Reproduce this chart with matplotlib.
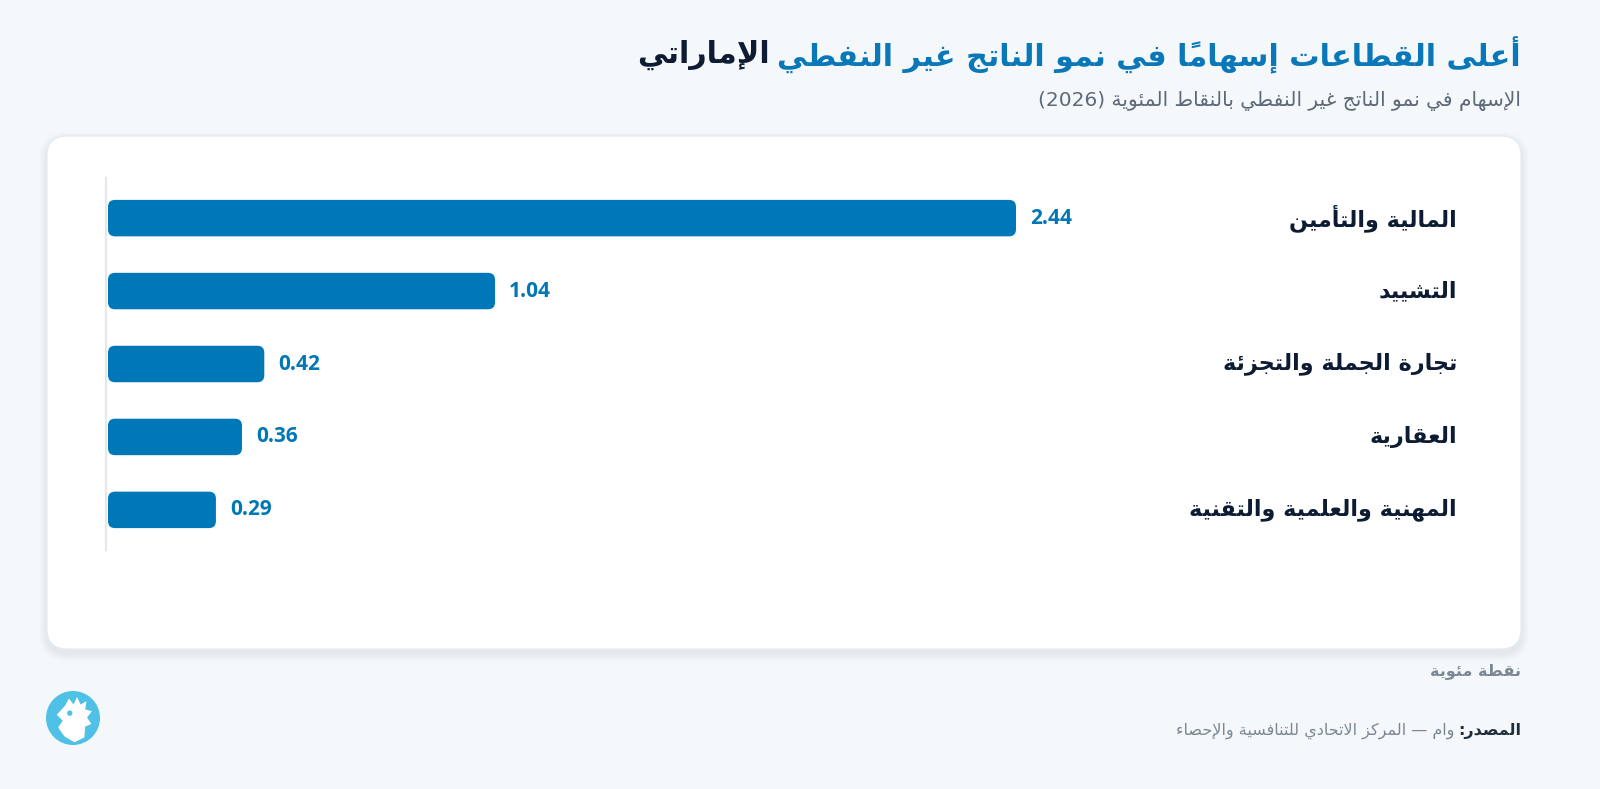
import matplotlib
matplotlib.use('Agg')
import matplotlib.pyplot as plt
from matplotlib import transforms
from matplotlib.patches import FancyBboxPatch, Circle, Polygon

# ---- data ----
categories = ['المالية والتأمين', 'التشييد', 'تجارة الجملة والتجزئة', 'العقارية',
              'المهنية والعلمية والتقنية']
values = [2.44, 1.04, 0.42, 0.36, 0.29]
title_main = 'أعلى القطاعات إسهاماً في نمو الناتج غير النفطي'
title_tail = 'الإماراتي'
subtitle = 'الإسهام في نمو الناتج غير النفطي بالنقاط المئوية (2026)'
unit_label = 'نقطة مئوية'
source_label = 'المصدر:'
source_text = 'وام — المركز الاتحادي للتنافسية والإحصاء'

BG = '#f5f8fb'
BLUE = '#0077b6'
TITLE_BLUE = '#0a78b8'
NAVY = '#0d1b33'
GREY = '#7b8794'

# ---- minimal arabic shaping + rtl ordering (matplotlib has none) ----
DUAL = {'ئ': 0xFE89, 'ب': 0xFE8F, 'ت': 0xFE95, 'ث': 0xFE99, 'ج': 0xFE9D, 'ح': 0xFEA1,
        'خ': 0xFEA5, 'س': 0xFEB1, 'ش': 0xFEB5, 'ص': 0xFEB9, 'ض': 0xFEBD, 'ط': 0xFEC1,
        'ظ': 0xFEC5, 'ع': 0xFEC9, 'غ': 0xFECD, 'ف': 0xFED1, 'ق': 0xFED5, 'ك': 0xFED9,
        'ل': 0xFEDD, 'م': 0xFEE1, 'ن': 0xFEE5, 'ه': 0xFEE9, 'ي': 0xFEF1}
RIGHT = {'آ': 0xFE81, 'أ': 0xFE83, 'ؤ': 0xFE85, 'إ': 0xFE87, 'ا': 0xFE8D, 'ة': 0xFE93,
         'د': 0xFEA9, 'ذ': 0xFEAB, 'ر': 0xFEAD, 'ز': 0xFEAF, 'و': 0xFEED, 'ى': 0xFEEF}
LAMALEF = {'آ': 0xFEF5, 'أ': 0xFEF7, 'إ': 0xFEF9, 'ا': 0xFEFB}
MARKS = {chr(c) for c in range(0x064B, 0x0660)}
MIRROR = {'(': ')', ')': '('}


def shape(s):
    clusters = []
    for ch in s:
        if ch in MARKS and clusters:
            clusters[-1][1] += ch
        else:
            clusters.append([ch, ''])
    merged = []
    i = 0
    while i < len(clusters):
        b, m = clusters[i]
        if b == 'ل' and i + 1 < len(clusters) and clusters[i + 1][0] in LAMALEF:
            merged.append(['LA' + clusters[i + 1][0], m + clusters[i + 1][1]])
            i += 2
        else:
            merged.append([b, m])
            i += 1

    def kind(b):
        if b in DUAL:
            return 'D'
        if b in RIGHT or b.startswith('LA'):
            return 'R'
        return None

    out = []
    for i, (b, m) in enumerate(merged):
        k = kind(b)
        pk = kind(merged[i - 1][0]) if i > 0 else None
        nk = kind(merged[i + 1][0]) if i + 1 < len(merged) else None
        jp = k is not None and pk == 'D'
        jn = k == 'D' and nk is not None
        if b.startswith('LA'):
            g = chr(LAMALEF[b[2]] + (1 if jp else 0))
        elif k == 'D':
            g = chr(DUAL[b] + (3 if jp and jn else 1 if jp else 2 if jn else 0))
        elif k == 'R':
            g = chr(RIGHT[b] + (1 if jp else 0))
        else:
            g = b
        out.append((g, m))
    return out


def rtl(s):
    runs = []
    for g, m in shape(s):
        is_ltr = g.isascii() and g.isalnum()
        if runs and runs[-1][0] == is_ltr:
            runs[-1][1].append((g, m))
        else:
            runs.append([is_ltr, [(g, m)]])
    text = ''
    for is_ltr, items in reversed(runs):
        if not is_ltr:
            items = [(MIRROR.get(g, g), m) for g, m in reversed(items)]
        text += ''.join(g + m for g, m in items)
    return text


W, H = 1600, 789


def fx(px):
    return px / W


def fy(py):
    return 1 - py / H


fig = plt.figure(figsize=(W / 100, H / 100), dpi=100, facecolor=BG)
AR = 'DejaVu Sans'

# card with soft shadow
def card(x0, y0, x1, y1, r, **kw):
    p = FancyBboxPatch((fx(x0), fy(y1)), fx(x1 - x0), (y1 - y0) / H,
                       boxstyle=f'round,pad=0,rounding_size={r / W}',
                       mutation_aspect=W / H, transform=fig.transFigure, **kw)
    fig.patches.append(p)
    return p

for k in range(1, 9):
    card(47 - k, 136 - k + 4, 1521 + k, 649 + k + 4, 20 + k,
         fc='#1f3550', ec='none', alpha=0.006, zorder=-3)
card(47, 136, 1521, 649, 20, fc='white', ec='#e7ecf1', lw=1, zorder=-2)

# bar chart axes
ax = fig.add_axes([fx(108), fy(550), fx(1470) - fx(108), (550 - 178) / H])
ax.set_facecolor('none')
ypos = list(range(len(values)))
bars = ax.barh(ypos, values, height=0.5, color=BLUE)
ax.set_xlim(0, max(values) * 1.5)
ax.set_ylim(len(values) - 0.45, -0.55)
for s in ['top', 'right', 'bottom']:
    ax.spines[s].set_visible(False)
ax.spines['left'].set_color('#e3e8ee')
ax.spines['left'].set_linewidth(1.6)
ax.spines['left'].set_position(('outward', 1.5))
ax.set_xticks([])
ax.set_yticks([])

ax_w = (1470 - 108)
ax_h = (550 - 178)
x_per_px = (ax.get_xlim()[1] - ax.get_xlim()[0]) / ax_w
y_per_px = abs(ax.get_ylim()[0] - ax.get_ylim()[1]) / ax_h
for b in bars:
    b.set_visible(False)
    ax.add_patch(FancyBboxPatch((b.get_x(), b.get_y()), b.get_width(), b.get_height(),
                                boxstyle=f'round,pad=0,rounding_size={7 * x_per_px}',
                                mutation_aspect=y_per_px / x_per_px,
                                fc=BLUE, ec='none'))

lab_tr = transforms.blended_transform_factory(fig.transFigure, ax.transData)
for i, (c, v) in enumerate(zip(categories, values)):
    ax.text(fx(1457), i, rtl(c), transform=lab_tr, ha='right', va='center',
            family=AR, weight='bold', fontsize=16, color=NAVY)
    ax.annotate(f'{v:.2f}', xy=(v, i), xytext=(10, 0), textcoords='offset points',
                ha='left', va='center', family='Open Sans', weight='bold',
                fontsize=15, color=BLUE)

# title (two colours)
fig.canvas.draw()
rend = fig.canvas.get_renderer()
t1 = fig.text(fx(1521), fy(55), rtl(title_main), ha='right', va='center',
              family=AR, weight='bold', fontsize=21.8, color=TITLE_BLUE)
bb = t1.get_window_extent(rend)
fig.text(fx(bb.x0 - 8), fy(55), rtl(title_tail), ha='right', va='center',
         family=AR, weight='bold', fontsize=21.8, color=NAVY)
fig.text(fx(1521), fy(101), rtl(subtitle), ha='right', va='center',
         family=AR, fontsize=14.5, color='#5d6978')

# footer
fig.text(fx(1521), fy(671), rtl(unit_label), ha='right', va='center',
         family=AR, weight='bold', fontsize=11.5, color=GREY)
s1 = fig.text(fx(1521), fy(731), rtl(source_label), ha='right', va='center',
              family=AR, weight='bold', fontsize=11.5, color='#1f2d3d')
bb = s1.get_window_extent(rend)
fig.text(fx(bb.x0 - 4), fy(731), rtl(source_text), ha='right', va='center',
         family=AR, fontsize=11.5, color=GREY)

# logo
lax = fig.add_axes([fx(46), fy(745), fx(54), 54 / H])
lax.set_xlim(-1, 1)
lax.set_ylim(-1, 1)
lax.set_aspect('equal')
lax.axis('off')
lax.add_patch(Circle((0, 0), 1, fc='#4fc1e6', ec='none'))
head = [(-0.6, 0.12), (-0.3, 0.45), (-0.15, 0.72), (0.02, 0.5), (0.15, 0.78), (0.28, 0.5),
        (0.5, 0.62), (0.45, 0.32), (0.7, 0.25), (0.52, 0.02), (0.68, -0.22), (0.45, -0.32),
        (0.42, -0.72), (0.05, -0.9), (-0.32, -0.68), (-0.55, -0.35), (-0.38, -0.1)]
lax.add_patch(Polygon(head, closed=True, fc='white', ec='none'))
lax.add_patch(Circle((-0.12, 0.18), 0.1, fc='#4fc1e6', ec='none'))

fig.savefig('out.png', dpi=100, facecolor=BG)
